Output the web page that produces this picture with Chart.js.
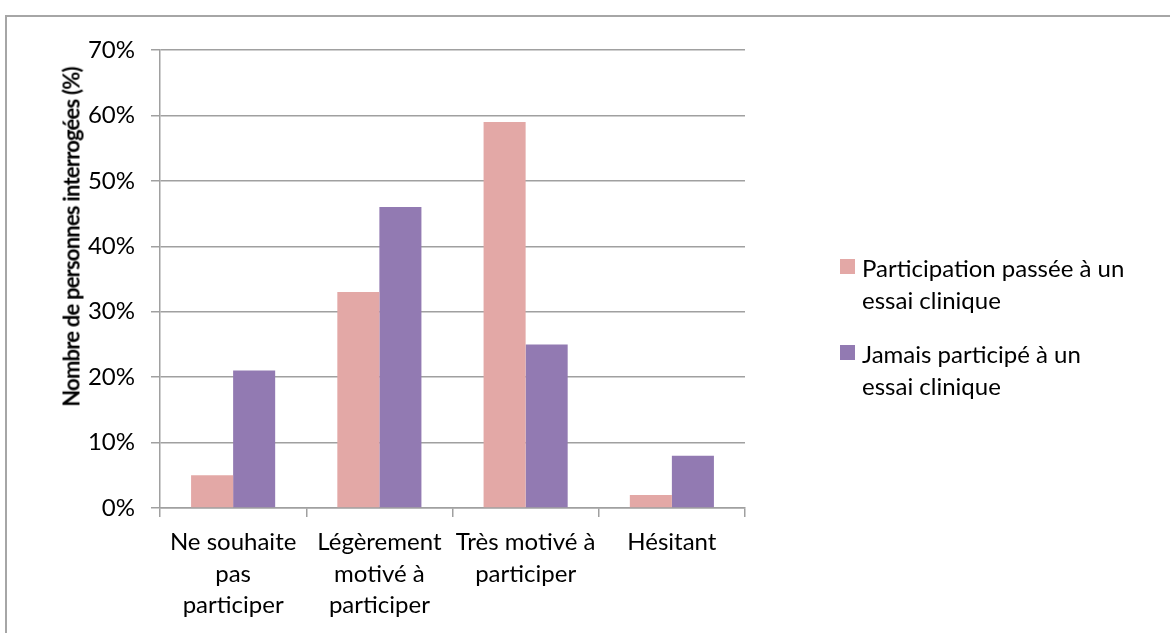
<!DOCTYPE html>
<html>
<head>
<meta charset="utf-8">
<script src="https://cdn.jsdelivr.net/npm/chart.js@4"></script>
<style>
  body { margin: 0; background: #fff; font-family: Lato, "Open Sans", sans-serif; }
  #wrap { position: relative; width: 1170px; height: 633px; overflow: hidden; }
  #frame { position: absolute; left: 5px; top: 15px; width: 1180px; height: 640px; border: 2px solid #a6a6a6; box-sizing: border-box; }
  #myChart { position: absolute; left: 0; top: 0; }
  #ytitle { position: absolute; left: 71px; top: 237px; transform: translate(-50%, -50%) rotate(-90deg);
            white-space: nowrap; font-weight: bold; font-size: 22px; letter-spacing: -0.8px; color: #000; }
  #legend { position: absolute; left: 840px; top: 252px; font-size: 24px; line-height: 32px; color: #000; }
  .item { position: relative; padding-left: 22px; margin-bottom: 22px; }
  .box { position: absolute; left: 0; top: 7px; width: 15px; height: 15px; }
</style>
</head>
<body>
<div id="wrap">
  <div id="frame"></div>
  <canvas id="myChart" width="1170" height="633"></canvas>
  <div id="ytitle">Nombre de personnes interrogées (%)</div>
  <div id="legend"></div>
</div>
<script>
var categories = [
  ["Ne souhaite", "pas", "participer"],
  ["Légèrement", "motivé à", "participer"],
  ["Très motivé à", "participer"],
  ["Hésitant"]
];
var seriesNames = [
  ["Participation passée à un", "essai clinique"],
  ["Jamais participé à un", "essai clinique"]
];
var passee = [5, 33, 59, 2];
var jamais = [21, 46, 25, 8];
var colors = ["#e3a8a6", "#927ab2"];

// HTML legend (wrapped lines like the original)
var lg = document.getElementById('legend');
seriesNames.forEach(function(n, i) {
  var d = document.createElement('div');
  d.className = 'item';
  d.innerHTML = '<span class="box" style="background:' + colors[i] + '"></span>' + n.join('<br>');
  lg.appendChild(d);
});

var gridColor = '#a0a0a0';
var config = {
  type: 'bar',
  data: {
    labels: categories,
    datasets: [
      { label: seriesNames[0].join(' '), data: passee, backgroundColor: colors[0], barPercentage: 1, categoryPercentage: 0.575 },
      { label: seriesNames[1].join(' '), data: jamais, backgroundColor: colors[1], barPercentage: 1, categoryPercentage: 0.575 }
    ]
  },
  options: {
    responsive: false,
    animation: false,
    layout: { padding: { left: 0, top: 50, right: 425, bottom: 0 } },
    plugins: { legend: { display: false }, tooltip: { enabled: false } },
    scales: {
      x: {
        grid: { offset: true, drawOnChartArea: false, color: gridColor, lineWidth: 1.5, tickLength: 9 },
        border: { color: gridColor, width: 1.5 },
        ticks: { color: '#000', font: { family: 'Lato', size: 24, lineHeight: 1.3 }, padding: 10, maxRotation: 0, autoSkip: false },
        afterFit: function(s) { s.height = 125; }
      },
      y: {
        min: 0, max: 70,
        grid: { color: gridColor, lineWidth: 1.5, tickLength: 9 },
        border: { color: gridColor, width: 1.5 },
        ticks: { stepSize: 10, color: '#000', font: { family: 'Lato', size: 24 }, padding: 16,
                 callback: function(v) { return v + '%'; } },
        afterFit: function(s) { s.width = 160; }
      }
    }
  }
};
var chartInstance = new Chart(document.getElementById('myChart'), config);
</script>
</body>
</html>
